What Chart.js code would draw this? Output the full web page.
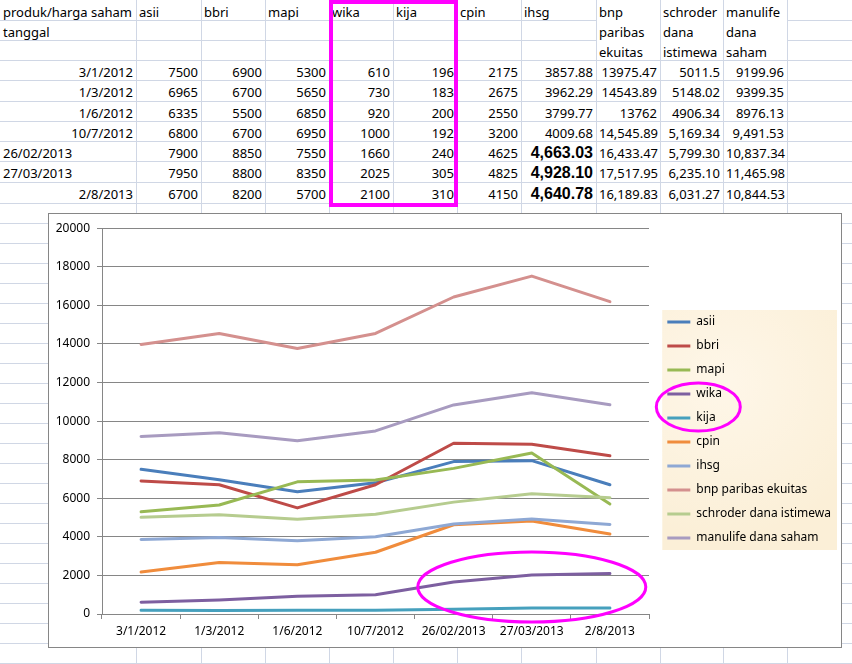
<!DOCTYPE html>
<html>
<head>
<meta charset="utf-8">
<script src="https://cdn.jsdelivr.net/npm/chart.js@4/dist/chart.umd.min.js"></script>
<style>
  html, body { margin: 0; padding: 0; background: #fff; overflow: hidden; }
  #sheet { position: relative; width: 852px; height: 664px; font-family: "Noto Sans", sans-serif; font-size: 13px; color: #000; }
  .hl, .vl { position: absolute; background: #d0d7e5; }
  .hl { height: 1px; }
  .vl { width: 1px; }
  .cell { position: absolute; height: 20px; line-height: 20px; padding: 0 3px; box-sizing: border-box; white-space: nowrap; overflow: visible; }
  .r { text-align: right; }
  .b { font-family: "Liberation Sans", Arial, sans-serif; font-weight: bold; font-size: 16px; }
  #mark { position: absolute; left: 329px; top: 0; width: 129px; height: 207px; border: 4px solid #ff00ff; box-sizing: border-box; }
  #box { position: absolute; left: 48px; top: 213px; width: 794px; height: 435px; border: 1px solid #868686; background: #fff; box-sizing: border-box; }
  #box canvas { display: block; }
</style>
</head>
<body>
<div id="sheet">
  <div id="box"><canvas id="myLineChart" width="792" height="433"></canvas></div>
</div>
<script>
// data
var tanggal = ["3/1/2012", "1/3/2012", "1/6/2012", "10/7/2012", "26/02/2013", "27/03/2013", "2/8/2013"];
var asii = [7500, 6965, 6335, 6800, 7900, 7950, 6700];
var bbri = [6900, 6700, 5500, 6700, 8850, 8800, 8200];
var mapi = [5300, 5650, 6850, 6950, 7550, 8350, 5700];
var wika = [610, 730, 920, 1000, 1660, 2025, 2100];
var kija = [196, 183, 200, 192, 240, 305, 310];
var cpin = [2175, 2675, 2550, 3200, 4625, 4825, 4150];
var ihsg = [3857.88, 3962.29, 3799.77, 4009.68, 4663.03, 4928.10, 4640.78];
var bnp = [13975.47, 14543.89, 13762, 14545.89, 16433.47, 17517.95, 16189.83];
var schroder = [5011.5, 5148.02, 4906.34, 5169.34, 5799.30, 6235.10, 6031.27];
var manulife = [9199.96, 9399.35, 8976.13, 9491.53, 10837.34, 11465.98, 10844.53];
var yTicks = { min: 0, max: 20000, step: 2000 };

var series = [
  { label: "asii", data: asii, color: "#4a7ebb" },
  { label: "bbri", data: bbri, color: "#be4b48" },
  { label: "mapi", data: mapi, color: "#98b954" },
  { label: "wika", data: wika, color: "#7d5fa0" },
  { label: "kija", data: kija, color: "#46a0bd" },
  { label: "cpin", data: cpin, color: "#f08c3c" },
  { label: "ihsg", data: ihsg, color: "#8ea8d4" },
  { label: "bnp paribas ekuitas", data: bnp, color: "#d4908e" },
  { label: "schroder dana istimewa", data: schroder, color: "#b6cc8f" },
  { label: "manulife dana saham", data: manulife, color: "#a89bc0" }
];

// ---- spreadsheet behind the chart ----
var sheet = document.getElementById("sheet");
var colX = [0, 136, 201, 265, 329, 393, 457, 521, 596, 660, 723, 787, 852];
var rowY = [0, 20, 40, 60, 80, 101, 121, 141, 161, 182, 203];
while (rowY[rowY.length - 1] < 664) rowY.push(rowY[rowY.length - 1] + 20);

function add(cls, css, html) {
  var d = document.createElement("div");
  d.className = cls;
  for (var k in css) d.style[k] = css[k] + "px";
  if (html !== undefined) d.innerHTML = html;
  sheet.insertBefore(d, document.getElementById("box"));
  return d;
}

rowY.slice(1).forEach(function (y) {
  if (y === 20 || y === 40) {
    add("hl", { left: 0, top: y, width: colX[8] });
    add("hl", { left: colX[11], top: y, width: 852 - colX[11] });
  } else {
    add("hl", { left: 0, top: y, width: 852 });
  }
});
colX.slice(1, 12).forEach(function (x) {
  add("vl", { left: x, top: 0, height: 664 });
});

function cell(c, r, text, cls) {
  add("cell " + (cls || ""), { left: colX[c], top: rowY[r] + 1.5, width: colX[c + 1] - colX[c] }, text);
}

cell(0, 0, "produk/harga saham");
cell(0, 1, "tanggal");
["asii", "bbri", "mapi", "wika", "kija", "cpin", "ihsg"].forEach(function (h, i) { cell(i + 1, 0, h); });
[["bnp", "paribas", "ekuitas"], ["schroder", "dana", "istimewa"], ["manulife", "dana", "saham"]].forEach(function (h, i) {
  h.forEach(function (w, j) { cell(8 + i, j, w); });
});

function withComma(v) {
  return v.toLocaleString("en-US", { minimumFractionDigits: 2, maximumFractionDigits: 2 });
}
var cols = [asii, bbri, mapi, wika, kija, cpin, ihsg, bnp, schroder, manulife];
tanggal.forEach(function (t, i) {
  var r = i + 3;
  cell(0, r, t, (i === 4 || i === 5) ? "" : "r");
  cols.forEach(function (arr, c) {
    var v = arr[i], txt = String(v), cls = "r";
    if (c === 6 && i >= 4) { txt = withComma(v); cls = "r b"; }
    if (c >= 7 && i >= 3) txt = withComma(v);
    cell(c + 1, r, txt, cls);
  });
});

add("", {}, "").id = "mark";

// ---- chart ----
Chart.defaults.font.family = '"Noto Sans", sans-serif';
Chart.defaults.font.size = 12;
Chart.defaults.color = "#000";

// room between plot and legend so the plot ends where the picture's does
var mctx = document.createElement("canvas").getContext("2d");
mctx.font = '12px "Noto Sans"';
var maxText = 0;
series.forEach(function (s) { maxText = Math.max(maxText, mctx.measureText(s.label).width); });
var legendW = 12 + 23 + 6 + maxText + 10;
var gap = Math.max(0, 792 - legendW - 600);

var legendBack = {
  id: "legendBack",
  beforeDraw: function (chart) {
    var boxes = chart.legend.legendHitBoxes;
    if (!boxes || !boxes.length) return;
    var l = boxes[0].left, t = boxes[0].top, r = 0, b = 0;
    boxes.forEach(function (h) {
      l = Math.min(l, h.left); t = Math.min(t, h.top);
      r = Math.max(r, h.left + h.width); b = Math.max(b, h.top + h.height);
    });
    var ctx = chart.ctx;
    var x0 = l - 5, y0 = t - 6, w = r - l + 11, h = b - t + 12;
    ctx.save();
    ctx.fillStyle = "#fbefd7";
    ctx.fillRect(x0, y0, w, h);
    var g = ctx.createRadialGradient(x0 + w * 0.35, y0 + h * 0.3, 5, x0 + w * 0.35, y0 + h * 0.3, w * 0.9);
    g.addColorStop(0, "rgba(255,248,236,0.8)");
    g.addColorStop(1, "rgba(255,248,236,0)");
    ctx.fillStyle = g;
    ctx.fillRect(x0, y0, w, h);
    ctx.restore();
  }
};

var circles = {
  id: "circles",
  afterDraw: function (chart) {
    var ctx = chart.ctx;
    var xs = chart.scales.x, ys = chart.scales.y;
    var boxes = chart.legend.legendHitBoxes;
    ctx.save();
    ctx.strokeStyle = "#ff00ff";
    ctx.lineWidth = 3;
    ctx.beginPath();
    ctx.ellipse(xs.getPixelForValue(5), ys.getPixelForValue(1400), 114, 35, 0, 0, Math.PI * 2);
    ctx.stroke();
    var a = boxes[3], k = boxes[4];
    ctx.beginPath();
    ctx.ellipse(a.left + 31, (a.top + k.top) / 2 + a.height / 2 + 1, 42, 24, 0, 0, Math.PI * 2);
    ctx.stroke();
    ctx.restore();
  }
};

var myLineChart = new Chart(document.getElementById("myLineChart"), {
  type: "line",
  data: {
    labels: tanggal,
    datasets: series.map(function (s, i) {
      return {
        label: s.label,
        data: s.data,
        borderColor: s.color,
        backgroundColor: s.color,
        borderWidth: 3,
        pointRadius: 0,
        pointHoverRadius: 0,
        tension: 0,
        fill: false,
        borderJoinStyle: "round",
        borderCapStyle: "round",
        order: series.length - i
      };
    })
  },
  options: {
    responsive: false,
    animation: false,
    events: [],
    layout: { padding: { top: 8, bottom: 9, left: 0, right: 0 } },
    plugins: {
      tooltip: { enabled: false },
      // empty title only spans the plot, so it nudges the plot down without moving the legend
      title: { display: true, text: " ", fullSize: false, padding: 0, font: { size: 4.3 } },
      legend: {
        position: "right",
        maxWidth: 300,
        labels: {
          usePointStyle: true,
          pointStyle: "line",
          pointStyleWidth: 23,
          padding: 12,
          color: "#000",
          sort: function (a, b) { return a.datasetIndex - b.datasetIndex; }
        }
      }
    },
    scales: {
      x: {
        offset: true,
        grid: { offset: true, drawOnChartArea: false, drawTicks: true, tickLength: 5, color: "#868686" },
        border: { color: "#868686" },
        ticks: { padding: 5, maxRotation: 0, autoSkip: false, color: "#000" },
        afterFit: function (s) { s.height = 24; }
      },
      y: {
        min: yTicks.min,
        max: yTicks.max,
        ticks: { stepSize: yTicks.step, padding: 7, color: "#000", callback: function (v) { return String(v); } },
        grid: { color: "#868686", tickLength: 5 },
        border: { color: "#868686" },
        afterFit: function (s) { s.width = 53; }
      },
      y2: {
        position: "right",
        display: true,
        grid: { display: false },
        border: { display: false },
        ticks: { display: false },
        afterFit: function (s) { s.width = gap; }
      }
    }
  },
  plugins: [legendBack, circles]
});
</script>
</body>
</html>
